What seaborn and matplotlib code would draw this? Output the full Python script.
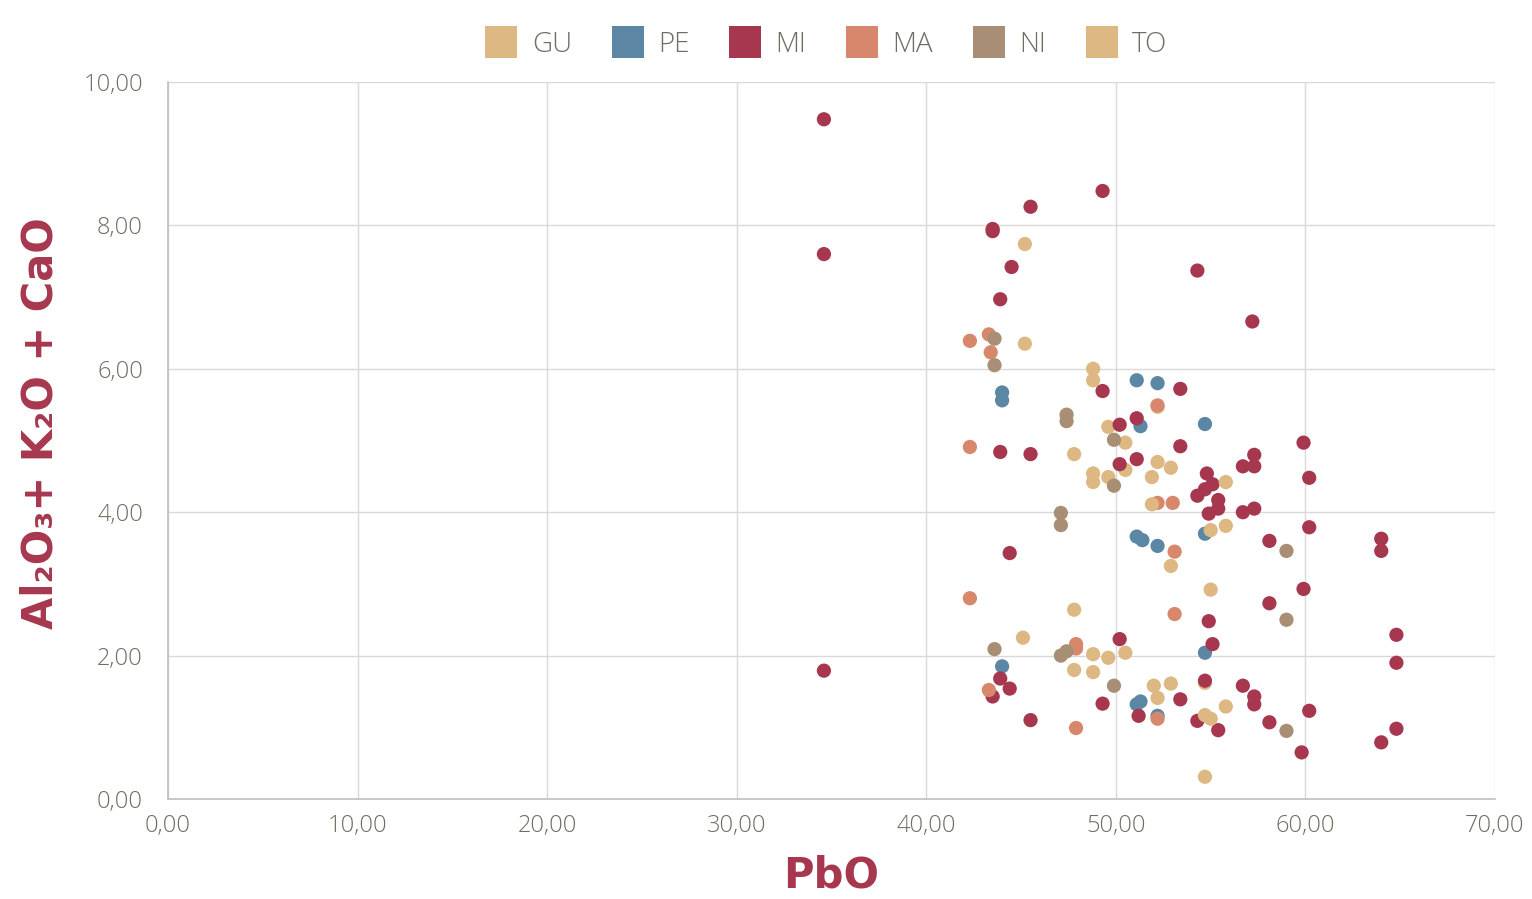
import matplotlib
matplotlib.use("Agg")
import matplotlib.pyplot as plt
import seaborn as sns
import pandas as pd
from matplotlib.lines import Line2D
from matplotlib.ticker import FuncFormatter, MultipleLocator

# ---- data ----
series = ["GU", "PE", "MI", "MA", "NI", "TO"]
colors = ["#DDB882", "#5B87A5", "#A6374F", "#D6876C", "#A88E74", "#DDB882"]

gu_x = [45.2, 45.2, 48.8, 48.8, 49.6, 50.5, 47.8, 50.5, 48.8, 48.8, 49.6, 52.2, 47.8, 45.1, 48.8, 49.6, 50.5, 47.8, 48.8, 54.7]
gu_y = [7.74, 6.35, 6.00, 5.84, 5.19, 4.97, 4.81, 4.59, 4.54, 4.42, 4.49, 5.47, 2.64, 2.25, 2.02, 1.97, 2.04, 1.80, 1.77, 1.62]

pe_x = [51.1, 52.2, 44.0, 44.0, 51.3, 54.7, 51.1, 51.4, 52.2, 54.7, 44.0, 54.7, 51.1, 51.3, 52.2]
pe_y = [5.84, 5.80, 5.67, 5.56, 5.20, 5.23, 3.66, 3.61, 3.53, 3.70, 1.85, 2.04, 1.32, 1.36, 1.16]

mi_x = [34.6, 34.6, 34.6, 49.3, 45.5, 43.5, 43.5, 44.5, 43.9, 54.3, 57.2, 49.3, 53.4, 51.1, 50.2,
        53.4, 43.9, 45.5, 51.1, 50.2, 57.3, 57.3, 56.7, 59.9, 60.2, 54.8, 55.1, 54.7, 54.3, 55.4,
        55.4, 54.9, 56.7, 57.3, 58.1, 44.4, 60.2, 64.0, 64.0, 59.9, 58.1, 54.9, 55.1, 64.8, 64.8,
        50.2, 43.9, 44.4, 43.5, 45.5, 49.3, 51.2, 53.4, 54.3, 55.4, 54.7, 56.7, 57.3, 57.3, 58.1,
        60.2, 64.8, 64.0, 59.8]
mi_y = [9.48, 7.60, 1.79, 8.48, 8.26, 7.95, 7.92, 7.42, 6.97, 7.37, 6.66, 5.69, 5.72, 5.31, 5.22,
        4.92, 4.84, 4.81, 4.74, 4.67, 4.80, 4.64, 4.64, 4.97, 4.48, 4.54, 4.39, 4.32, 4.23, 4.17,
        4.05, 3.98, 4.00, 4.05, 3.60, 3.43, 3.79, 3.63, 3.46, 2.93, 2.73, 2.48, 2.16, 2.29, 1.90,
        2.23, 1.68, 1.54, 1.43, 1.10, 1.33, 1.16, 1.39, 1.09, 0.96, 1.65, 1.58, 1.43, 1.32, 1.07,
        1.23, 0.98, 0.79, 0.65]

ma_x = [42.3, 43.3, 43.4, 52.2, 52.2, 53.0, 53.1, 42.3, 42.3, 53.1, 47.9, 47.9, 43.3, 52.2, 47.9]
ma_y = [6.39, 6.48, 6.23, 5.49, 4.13, 4.13, 3.45, 4.91, 2.80, 2.58, 2.16, 2.10, 1.52, 1.12, 0.99]

ni_x = [43.6, 43.6, 47.4, 47.4, 49.9, 49.9, 47.1, 47.1, 59.0, 59.0, 59.0, 43.6, 47.1, 47.4, 49.9]
ni_y = [6.42, 6.05, 5.36, 5.27, 5.01, 4.37, 3.99, 3.82, 3.46, 2.50, 0.95, 2.09, 2.00, 2.06, 1.58]

to_x = [52.2, 52.9, 51.9, 55.8, 51.9, 55.0, 55.8, 52.9, 55.0, 52.0, 52.9, 52.2, 55.8, 54.7, 55.0, 54.7]
to_y = [4.70, 4.62, 4.49, 4.42, 4.11, 3.75, 3.81, 3.25, 2.92, 1.58, 1.61, 1.41, 1.29, 1.17, 1.12, 0.31]

xs = [gu_x, pe_x, mi_x, ma_x, ni_x, to_x]
ys = [gu_y, pe_y, mi_y, ma_y, ni_y, to_y]

frames = [pd.DataFrame({"PbO": x, "Y": y, "grupo": s}) for s, x, y in zip(series, xs, ys)]
df = pd.concat(frames, ignore_index=True)

# ---- style ----
sns.set_theme(style="white")
plt.rcParams["font.family"] = ["Open Sans", "DejaVu Sans"]
text_gray = "#6E6E62"
grid_col = "#D9D9D9"

fig = plt.figure(figsize=(15.32, 8.99), dpi=100)
ax = fig.add_axes([168 / 1532, 1 - 799 / 899, (1495 - 168) / 1532, (799 - 82) / 899])

sns.scatterplot(data=df, x="PbO", y="Y", hue="grupo", hue_order=series,
                palette=dict(zip(series, colors)), s=105, linewidth=0,
                legend=False, ax=ax, zorder=3)

ax.set_xlim(0, 70)
ax.set_ylim(0, 10)
ax.xaxis.set_major_locator(MultipleLocator(10))
ax.yaxis.set_major_locator(MultipleLocator(2))
fmt = FuncFormatter(lambda v, p: f"{v:.2f}".replace(".", ","))
ax.xaxis.set_major_formatter(fmt)
ax.yaxis.set_major_formatter(fmt)
ax.grid(True, color=grid_col, linewidth=1.0)
ax.set_axisbelow(True)
for side in ["top", "right"]:
    ax.spines[side].set_visible(False)
for side in ["left", "bottom"]:
    ax.spines[side].set_color("#BFBFBF")
    ax.spines[side].set_linewidth(1.2)
ax.tick_params(axis="both", length=0, labelsize=17, colors=text_gray)
ax.tick_params(axis="y", pad=18)
ax.tick_params(axis="x", pad=11)
for lab in ax.get_xticklabels() + ax.get_yticklabels():
    lab.set_fontweight("light")

label_col = "#A6374F"
ax.set_xlabel("PbO", fontsize=30, fontweight="bold", color=label_col,
              family=["DejaVu Sans"], labelpad=12)
ax.set_ylabel("Al₂O₃+ K₂O + CaO", fontsize=30, fontweight="bold", color=label_col,
              family=["DejaVu Sans"])
ax.yaxis.set_label_coords(-0.08, 0.524)

handles = [Line2D([0], [0], marker="s", linestyle="", markersize=23,
                  markerfacecolor=c, markeredgewidth=0) for c in colors]
leg = fig.legend(handles, series, loc="center", bbox_to_anchor=(826 / 1532, 1 - 45 / 899),
                 ncol=6, frameon=False, fontsize=20, handletextpad=0.5,
                 columnspacing=1.4, handlelength=1.2)
for t in leg.get_texts():
    t.set_color(text_gray)
    t.set_fontweight("light")

fig.savefig("out.png", dpi=100)
